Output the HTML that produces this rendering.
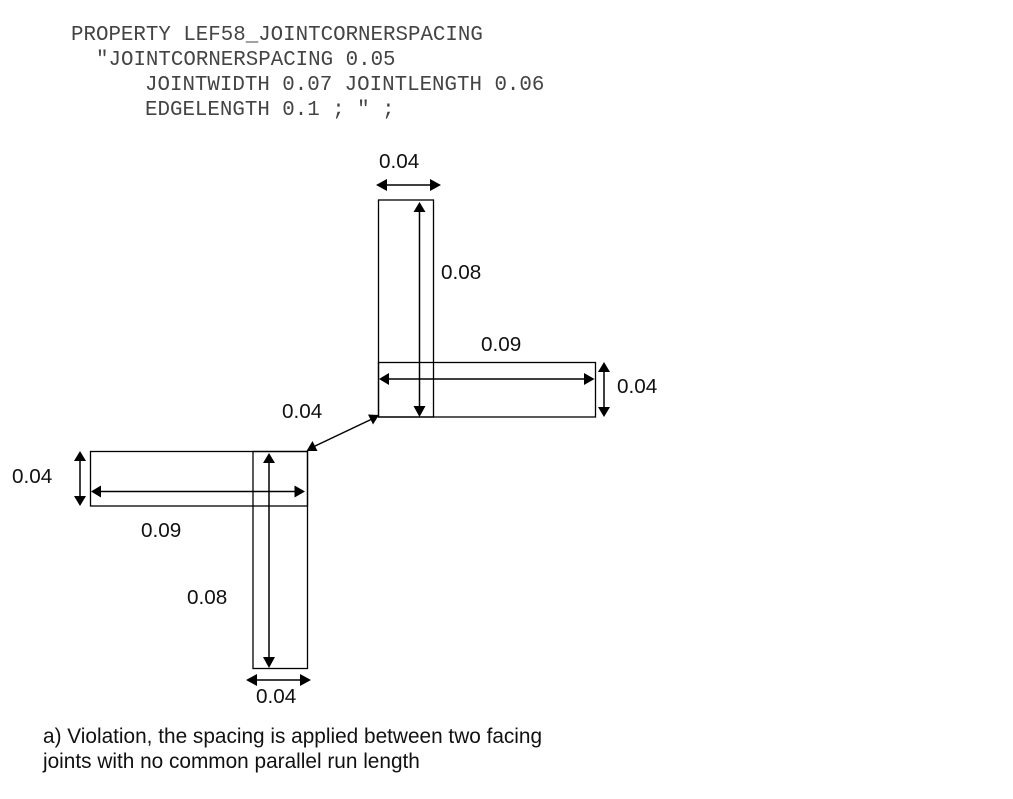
<!DOCTYPE html>
<html>
<head>
<meta charset="utf-8">
<style>
html,body{margin:0;padding:0;background:#fff;}
svg{display:block;}
.m{font-family:"Liberation Mono",monospace;font-size:20.8px;fill:#444;}
.s{font-family:"Liberation Sans",sans-serif;font-size:20.7px;fill:#111;}
.c{font-size:20.8px;}
.r{fill:none;stroke:#000;stroke-width:1.3;}
.l{stroke:#000;stroke-width:1.5;fill:none;}
</style>
</head>
<body>
<svg width="1013" height="799" viewBox="0 0 1013 799" xmlns="http://www.w3.org/2000/svg">
<rect width="1013" height="799" fill="#fff"/>
<text class="m" x="71" y="40" xml:space="preserve">PROPERTY LEF58_JOINTCORNERSPACING</text>
<text class="m" x="96" y="65" xml:space="preserve">"JOINTCORNERSPACING 0.05</text>
<text class="m" x="145" y="90" xml:space="preserve">JOINTWIDTH 0.07 JOINTLENGTH 0.06</text>
<text class="m" x="145" y="115" xml:space="preserve">EDGELENGTH 0.1 ; " ;</text>

<rect class="r" x="378.5" y="200" width="55" height="217"/>
<rect class="r" x="378.5" y="362.5" width="217" height="54.5"/>
<rect class="r" x="90.5" y="451.5" width="217" height="54.5"/>
<rect class="r" x="253" y="451.5" width="54.5" height="217"/>

<!-- top width -->
<line class="l" x1="385" y1="185" x2="432" y2="185"/>
<polygon points="376,185 387,179 387,191"/><polygon points="441,185 430,179 430,191"/>
<!-- top vertical -->
<line class="l" x1="419.5" y1="210" x2="419.5" y2="408"/>
<polygon points="419.5,202 413.5,212 425.5,212"/><polygon points="419.5,417 413.5,406 425.5,406"/>
<!-- right horizontal -->
<line class="l" x1="388" y1="379" x2="586" y2="379" stroke-width="2"/>
<polygon points="379,379 389,373 389,385"/><polygon points="594.5,379 584,373 584,385"/>
<!-- right vertical -->
<line class="l" x1="604" y1="370" x2="604" y2="409"/>
<polygon points="604,362 598,372 610,372"/><polygon points="604,417 598,407 610,407"/>
<!-- diagonal -->
<line class="l" x1="313" y1="447" x2="372" y2="419"/>
<polygon points="379,415 368,414.5 373,424.5"/><polygon points="306.5,451 317.5,451 312.5,441"/>
<!-- left vertical -->
<line class="l" x1="80" y1="459" x2="80" y2="498" stroke-width="2"/>
<polygon points="80,451 74,461 86,461"/><polygon points="80,506 74,496 86,496"/>
<!-- left horizontal -->
<line class="l" x1="99" y1="491.5" x2="297" y2="491.5"/>
<polygon points="91,491.5 101,485.5 101,497.5"/><polygon points="305,491.5 294.5,485.5 294.5,497.5"/>
<!-- bottom vertical -->
<line class="l" x1="269" y1="461" x2="269" y2="660"/>
<polygon points="269,453 263,463 275,463"/><polygon points="269,668 263,657 275,657"/>
<!-- bottom width -->
<line class="l" x1="255" y1="680" x2="302" y2="680"/>
<polygon points="246,680 257,674 257,686"/><polygon points="311,680 300,674 300,686"/>

<text class="s" x="379" y="168">0.04</text>
<text class="s" x="441" y="279">0.08</text>
<text class="s" x="481" y="351">0.09</text>
<text class="s" x="617" y="393">0.04</text>
<text class="s" x="282" y="418">0.04</text>
<text class="s" x="12" y="483">0.04</text>
<text class="s" x="141" y="537">0.09</text>
<text class="s" x="187" y="604">0.08</text>
<text class="s" x="256" y="703">0.04</text>
<text class="s c" x="43" y="743">a) Violation, the spacing is applied between two facing</text>
<text class="s c" x="43" y="768">joints with no common parallel run length</text>
</svg>
</body>
</html>
